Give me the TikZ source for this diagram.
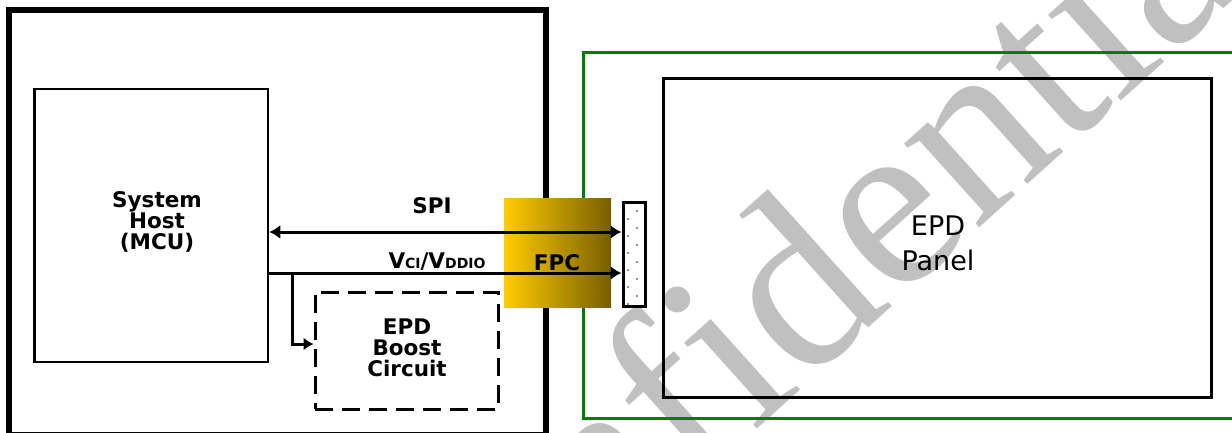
\documentclass[tikz,border=0pt]{standalone}
\usepackage{fontspec}
\setmainfont{DejaVu Sans}
\newfontfamily\wmfont{Liberation Serif}
\usetikzlibrary{arrows.meta}
\definecolor{wmgray}{RGB}{192,192,192}
\definecolor{fpcL}{RGB}{255,204,0}
\definecolor{fpcR}{RGB}{119,95,0}
\definecolor{pgreen}{RGB}{0,128,0}
\definecolor{dotgray}{RGB}{110,110,110}
\tikzset{
  boldlbl/.style={font=\fontsize{21.5}{21}\selectfont\bfseries, align=center, inner sep=0pt},
  box/.style={draw, rectangle, inner sep=0pt},
  conn/.style={line width=3pt, -{Latex[length=11pt,width=14pt]}},
  dconn/.style={line width=3pt, {Latex[length=11pt,width=14pt]}-{Latex[length=11pt,width=14pt]}},
}
\begin{document}
\begin{tikzpicture}[x=1pt,y=-1pt]
\useasboundingbox (0,0) rectangle (1232,432);
\clip (0,0) rectangle (1232,432);
% watermark
\node[anchor=base west, rotate=42, text=wmgray, inner sep=0pt,
      font=\wmfont\fontsize{245}{245}\selectfont] (wm) at (389,760) {Confidential};
% outer host board
\node[box, line width=6pt, minimum width=537pt, minimum height=425pt] (board) at (277.5,222.5) {};
% green panel frame
\node[box, draw=pgreen, line width=3pt, minimum width=680pt, minimum height=366pt] (frame) at (923,235) {};
% panel
\node[box, line width=3pt, minimum width=548pt, minimum height=319pt] (panel) at (937,237.5) {};
\node[font=\fontsize{27}{35}\selectfont, align=center, inner sep=0pt] (panellbl) at (938,243) {EPD\\Panel};
% host
\node[box, line width=2.5pt, minimum width=233.5pt, minimum height=273pt] (host) at (151.25,225.5) {};
\node[boldlbl] (hostlbl) at (157,222) {System\\Host\\(MCU)};
% boost
\node[box, line width=3pt, dash pattern=on 18pt off 9pt, minimum width=183pt, minimum height=117pt] (boost) at (406.5,350.5) {};
\node[boldlbl] (boostlbl) at (407,348) {EPD\\Boost\\Circuit};
% FPC
\node[rectangle, left color=fpcL, right color=fpcR, minimum width=107pt, minimum height=109pt, inner sep=0pt] (fpc) at (557.5,252.5) {};
\node[boldlbl] (fpclbl) at (557,263) {FPC};
% connector
\node[box, fill=white, line width=3pt, minimum width=22pt, minimum height=104pt] (conn) at (634,254) {};
\foreach \i in {0,...,5} {
  \fill[dotgray] (628,219+17*\i) circle (1.1pt);
  \fill[dotgray] (637,211+17*\i) circle (1.1pt);
}
% signals
\coordinate (yspi) at (0,232);
\coordinate (yvci) at (0,273);
\coordinate (brtop) at (292,273);
\coordinate (brbot) at (292,344);
\draw[dconn] (host.east |- yspi) -- (conn.west |- yspi);
\draw[conn] (host.east |- yvci) -- (conn.west |- yvci);
\draw[line width=3pt, -{Latex[length=10pt,width=13pt]}] (brtop) -- (brbot) -- (boost.west |- brbot);
\node[boldlbl] (spilbl) at (432,206) {SPI};
\node[boldlbl, anchor=base] (vcilbl) at (437,268) {V{\fontsize{14}{14}\selectfont CI}/V{\fontsize{14}{14}\selectfont DDIO}};
\end{tikzpicture}
\end{document}
